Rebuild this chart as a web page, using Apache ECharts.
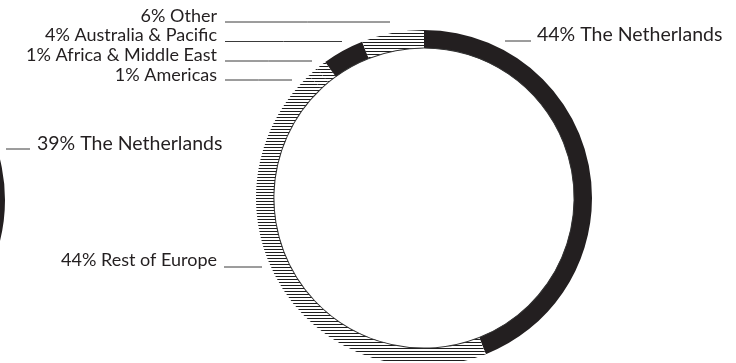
<!DOCTYPE html>
<html>
<head>
<meta charset="utf-8">
<script src="https://cdn.jsdelivr.net/npm/echarts@6/dist/echarts.min.js"></script>
<style>
  html, body { margin: 0; padding: 0; background: #fff; }
  #chart { width: 736px; height: 363px; }
</style>
</head>
<body>
<div id="chart"></div>
<script>
// Sales split by region (percent), main donut, clockwise from 12 o'clock
const regions = ['The Netherlands', 'Rest of Europe', 'Americas', 'Africa & Middle East', 'Australia & Pacific', 'Other'];
const shares = [44, 44, 1, 1, 4, 6];
const solidRegions = ['The Netherlands', 'Australia & Pacific'];

// Second donut, mostly beyond the left edge
const regions2 = ['The Netherlands', 'Abroad'];
const shares2 = [39, 61];
const labelled2 = ['The Netherlands'];

const INK = '#231f20';
const FONT = 'Lato';
const BIG = 19.5;
const SMALL = 18;

// Label anchors and horizontal leader lines for the main donut
const mainLabelPlace = [
  { x: 537, y: 35, align: 'left', size: BIG, line: [505, 531, 41] },
  { x: 217, y: 260.5, align: 'right', size: SMALL, line: [224, 262, 267] },
  { x: 217, y: 75, align: 'right', size: SMALL, line: [225, 292, 80] },
  { x: 217, y: 55.5, align: 'right', size: SMALL, line: [225, 312, 61] },
  { x: 217, y: 35.5, align: 'right', size: SMALL, line: [225, 342, 41.5] },
  { x: 217, y: 16, align: 'right', size: SMALL, line: [225, 390, 22] }
];
const sideLabelPlace = [
  { x: 37, y: 144, align: 'left', size: BIG, line: [6, 30, 149] }
];

const hatch = {
  symbol: 'rect',
  symbolSize: 1,
  dashArrayX: [[10, 0]],
  dashArrayY: [1, 2],
  rotation: 0,
  color: '#1e1e1e'
};

function ringItems(names, values, solid) {
  return names.map((n, i) => ({
    name: n,
    value: values[i],
    itemStyle: solid.indexOf(n) >= 0
      ? { color: INK }
      : { color: '#ffffff', decal: hatch }
  }));
}

function placeLabels(places) {
  return function (params) {
    const p = places[params.dataIndex];
    if (!p) return {};
    const [x1, x2, ly] = p.line;
    return {
      x: p.x,
      y: p.y,
      align: p.align,
      verticalAlign: 'middle',
      fontSize: p.size,
      labelLinePoints: [[x1, ly], [(x1 + x2) / 2, ly], [x2, ly]]
    };
  };
}

const mainData = ringItems(regions, shares, solidRegions);
mainData.forEach((d, i) => {
  d.label = { fontSize: mainLabelPlace[i].size };
});

const sideData = ringItems(regions2, shares2, ['The Netherlands']);
sideData.forEach(d => {
  if (labelled2.indexOf(d.name) < 0) {
    d.label = { show: false };
    d.labelLine = { show: false };
  } else {
    d.label = { fontSize: sideLabelPlace[0].size };
  }
});

const commonLabel = {
  show: true,
  formatter: '{c}% {b}',
  color: INK,
  fontFamily: FONT,
  fontSize: SMALL
};
const commonLine = {
  show: true,
  length: 5,
  length2: 5,
  lineStyle: { color: '#3a3a3a', width: 1 }
};

const chart = echarts.init(document.getElementById('chart'), null, { renderer: 'canvas' });
chart.setOption({
  animation: false,
  backgroundColor: '#ffffff',
  series: [
    {
      type: 'pie',
      center: [424, 198],
      radius: [150, 168],
      startAngle: 90,
      clockwise: true,
      silent: true,
      avoidLabelOverlap: false,
      label: commonLabel,
      labelLine: commonLine,
      labelLayout: placeLabels(mainLabelPlace),
      itemStyle: { borderWidth: 0 },
      data: mainData
    },
    {
      // thin inner rim of the main donut
      type: 'pie',
      center: [424, 198],
      radius: [149.6, 150.6],
      startAngle: 90,
      silent: true,
      label: { show: false },
      labelLine: { show: false },
      itemStyle: { color: '#333', borderWidth: 0 },
      data: regions.map((n, i) => ({ name: n, value: shares[i] }))
    },
    {
      type: 'pie',
      center: [-163, 200],
      radius: [150, 168],
      startAngle: 90,
      clockwise: true,
      silent: true,
      avoidLabelOverlap: false,
      label: commonLabel,
      labelLine: commonLine,
      labelLayout: placeLabels(sideLabelPlace),
      itemStyle: { borderWidth: 0 },
      data: sideData
    }
  ]
});
</script>
</body>
</html>
